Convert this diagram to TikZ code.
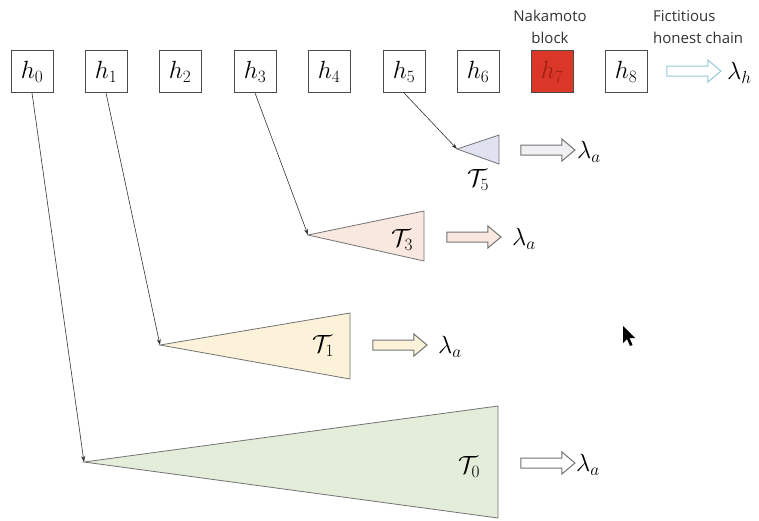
\documentclass[tikz,border=0pt]{standalone}
\usepackage{fontspec}
\usepackage{amsmath}
\newfontfamily\labfont{Open Sans}
\usetikzlibrary{shapes.arrows,arrows.meta}
\definecolor{tfive}{RGB}{224,226,242}
\definecolor{tthree}{RGB}{248,232,224}
\definecolor{tone}{RGB}{252,242,218}
\definecolor{tzero}{RGB}{228,236,218}
\definecolor{nakred}{RGB}{218,55,40}
\definecolor{nakdark}{RGB}{160,30,20}
\definecolor{honblue}{RGB}{150,200,215}
\begin{document}
\begin{tikzpicture}[x=1pt,y=-1pt,
  blk/.style={draw=black!70, line width=0.8pt, minimum width=42pt, minimum height=42pt, inner sep=0pt, font=\fontsize{26}{30}\selectfont},
  harrow/.style={single arrow, draw=black!55, line width=1pt, minimum height=54pt, inner sep=4.5pt, single arrow head extend=6pt, single arrow tip angle=80, anchor=center},
  tri/.style={draw=black!55, line width=0.8pt},
  conn/.style={draw=black!80, line width=0.6pt, -{Stealth[length=6pt,width=4pt]}},
  mlab/.style={font=\fontsize{26}{30}\selectfont, inner sep=0pt},
  txt/.style={font=\labfont\fontsize{15}{22}\selectfont, inner sep=0pt, text=black!80}
]
\useasboundingbox (0,0) rectangle (759,520);
\fill[white] (0,0) rectangle (759,520);

% blocks
\node[blk] (h0) at (32,71.5) {$h_0$};
\node[blk] (h1) at (106,71.5) {$h_1$};
\node[blk] (h2) at (180,71.5) {$h_2$};
\node[blk] (h3) at (255,71.5) {$h_3$};
\node[blk] (h4) at (329,71.5) {$h_4$};
\node[blk] (h5) at (404,71.5) {$h_5$};
\node[blk] (h6) at (478,71.5) {$h_6$};
\node[blk, fill=nakred, text=nakdark] (h7) at (552,71.5) {$h_7$};
\node[blk] (h8) at (626,71.5) {$h_8$};

\node[txt, align=center] (nak) at (550,27) {Nakamoto\\block};
\node[txt, align=left, anchor=west] (fict) at (653,27) {Fictitious\\honest chain};
\node[harrow, draw=honblue, fill=white] (ah) at (691,71) {};
\node[mlab, anchor=west] (lh) at (727,73) {$\lambda_h$};

% triangles
\coordinate (t5) at (457,149);
\coordinate (t3) at (308,235);
\coordinate (t1) at (160,345);
\coordinate (t0) at (84,462);
\draw[tri, fill=tfive] (t5) -- (499,135) -- (499,164) -- cycle;
\draw[tri, fill=tthree] (t3) -- (424,211) -- (424,261) -- cycle;
\draw[tri, fill=tone] (t1) -- (350,313) -- (350,379) -- cycle;
\draw[tri, fill=tzero] (t0) -- (498,406) -- (498,518) -- cycle;

\node[mlab] (l5) at (478,180) {$\mathcal{T}_5$};
\node[mlab] (l3) at (402,240) {$\mathcal{T}_3$};
\node[mlab] (l1) at (323,346) {$\mathcal{T}_1$};
\node[mlab] (l0) at (469,467) {$\mathcal{T}_0$};

% connectors
\draw[conn] (h0.south) -- (t0);
\draw[conn] (h1.south) -- (t1);
\draw[conn] (h3.south) -- (t3);
\draw[conn] (h5.south) -- (t5);

% rate arrows
\node[harrow, fill=tfive!80!black!20] (a5) at (545,150) {};
\node[mlab, anchor=west] (la5) at (577,152) {$\lambda_a$};
\node[harrow, fill=tthree] (a3) at (471,237) {};
\node[mlab, anchor=west] (la3) at (512,239) {$\lambda_a$};
\node[harrow, fill=tone] (a1) at (397,345) {};
\node[mlab, anchor=west] (la1) at (438,347) {$\lambda_a$};
\node[harrow, fill=white] (a0) at (545,463) {};
\node[mlab, anchor=west] (la0) at (576,465) {$\lambda_a$};

% mouse cursor
\fill[black] (623,326) -- (623,343) -- (627,339) -- (630,346) -- (632.5,345) -- (629.5,338) -- (635,338) -- cycle;
\end{tikzpicture}
\end{document}
